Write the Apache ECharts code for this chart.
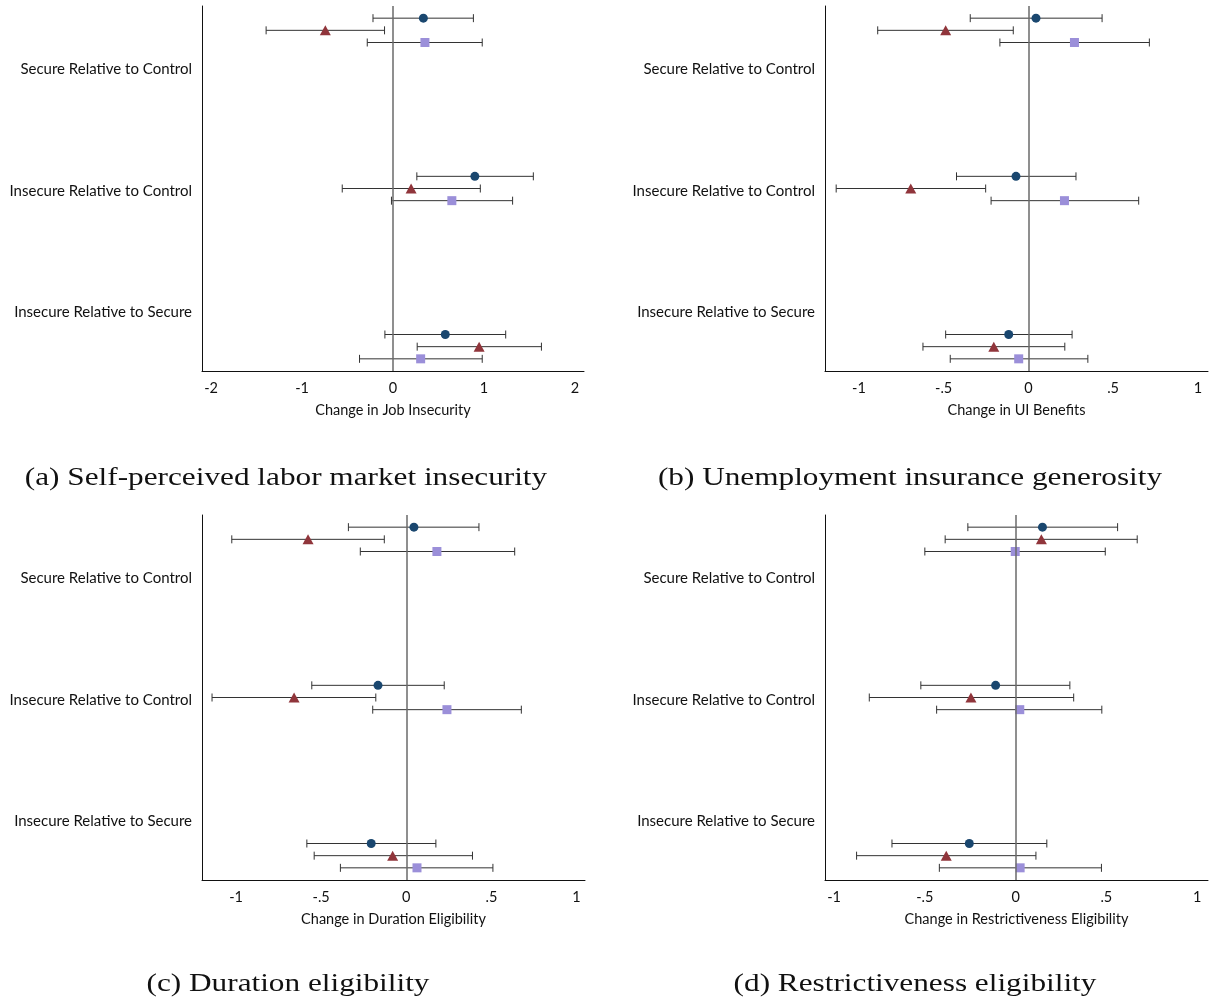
<!DOCTYPE html>
<html>
<head>
<meta charset="utf-8">
<script src="https://cdn.jsdelivr.net/npm/echarts@6/dist/echarts.min.js"></script>
<style>
  html, body { margin: 0; padding: 0; background: #ffffff; }
  #chart { width: 1213px; height: 1002px; }
</style>
</head>
<body>
<div id="chart"></div>
<script>
// Contrasts shown on every panel (top to bottom)
const contrasts = ['Secure Relative to Control', 'Insecure Relative to Control', 'Insecure Relative to Secure'];
// Vertical slot of the first estimate in each contrast group (0..30 scale, top down)
const rowBase = [1, 14, 27];
// Where each contrast label sits on the same scale
const labelPos = [5.2, 15.2, 25.2];

// Each row: [estimate, lower CI, upper CI] per contrast
const jobNavy     = [[0.334, -0.22, 0.884], [0.90, 0.262, 1.543], [0.575, -0.089, 1.239]];
const jobMaroon   = [[-0.744, -1.395, -0.093], [0.199, -0.558, 0.96], [0.947, 0.266, 1.632]];
const jobLavender = [[0.351, -0.283, 0.981], [0.647, -0.017, 1.315], [0.304, -0.368, 0.981]];

const uiNavy     = [[0.045, -0.343, 0.435], [-0.073, -0.424, 0.281], [-0.116, -0.488, 0.258]];
const uiMaroon   = [[-0.488, -0.889, -0.089], [-0.694, -1.134, -0.252], [-0.204, -0.622, 0.215]];
const uiLavender = [[0.272, -0.168, 0.714], [0.213, -0.22, 0.651], [-0.057, -0.461, 0.351]];

const durNavy     = [[0.045, -0.34, 0.427], [-0.166, -0.555, 0.223], [-0.206, -0.584, 0.174]];
const durMaroon   = [[-0.577, -1.025, -0.129], [-0.659, -1.141, -0.179], [-0.08, -0.541, 0.389]];
const durLavender = [[0.18, -0.27, 0.637], [0.239, -0.197, 0.676], [0.063, -0.387, 0.509]];

const resNavy     = [[0.148, -0.263, 0.562], [-0.11, -0.522, 0.299], [-0.255, -0.681, 0.172]];
const resMaroon   = [[0.142, -0.388, 0.67], [-0.246, -0.806, 0.32], [-0.382, -0.876, 0.112]];
const resLavender = [[-0.002, -0.5, 0.494], [0.023, -0.435, 0.475], [0.025, -0.42, 0.473]];

// Tick labels on the horizontal axes
const jobTicks = [-2, -1, 0, 1, 2];
const eligTicks = [-1, -0.5, 0, 0.5, 1];

const axisTitles = ['Change in Job Insecurity', 'Change in UI Benefits',
                    'Change in Duration Eligibility', 'Change in Restrictiveness Eligibility'];
const captions = ['(a) Self-perceived labor market insecurity', '(b) Unemployment insurance generosity',
                  '(c) Duration eligibility', '(d) Restrictiveness eligibility'];

const panels = [
  { series: [jobNavy, jobMaroon, jobLavender], ticks: jobTicks, min: -2.1, max: 2.1,
    grid: { left: 202, top: 6, width: 382, height: 365 }, cap: [286, 478] },
  { series: [uiNavy, uiMaroon, uiLavender], ticks: eligTicks, min: -1.2, max: 1.06,
    grid: { left: 825, top: 6, width: 383, height: 365 }, cap: [910, 478] },
  { series: [durNavy, durMaroon, durLavender], ticks: eligTicks, min: -1.2, max: 1.05,
    grid: { left: 202, top: 515, width: 383, height: 365 }, cap: [288, 984] },
  { series: [resNavy, resMaroon, resLavender], ticks: eligTicks, min: -1.05, max: 1.06,
    grid: { left: 825, top: 515, width: 383, height: 365 }, cap: [915, 984] }
];

const markerStyles = [
  { symbol: 'circle', size: 9, color: '#1a476f' },
  { symbol: 'triangle', size: [11, 10], color: '#90353b' },
  { symbol: 'rect', size: 9, color: '#9b8fd9' }
];

const FONT = 'Lato';
const stataNum = v => (v === 0 ? '0' : String(v).replace('0.', '.'));

const grids = [], xAxes = [], yAxes = [], series = [], graphics = [];

panels.forEach((p, pi) => {
  grids.push(p.grid);
  xAxes.push({
    type: 'value', gridIndex: pi, min: p.min, max: p.max, position: 'bottom',
    axisLine: { show: true, onZero: false, lineStyle: { color: '#111', width: 1 } },
    axisTick: { show: false },
    splitLine: { show: false },
    axisLabel: {
      customValues: p.ticks, formatter: stataNum,
      fontFamily: FONT, fontSize: 14.5, color: '#111', margin: 10
    },
    name: axisTitles[pi], nameLocation: 'middle', nameGap: 32,
    nameTextStyle: { fontFamily: FONT, fontSize: 14.5, color: '#111' }
  });
  yAxes.push({
    type: 'value', gridIndex: pi, min: 0, max: 30, inverse: true, position: 'left',
    axisLine: { show: true, onZero: false, lineStyle: { color: '#111', width: 1 } },
    axisTick: { show: false },
    splitLine: { show: false },
    axisLabel: {
      customValues: labelPos,
      formatter: v => contrasts[Math.floor(v / 10)],
      fontFamily: FONT, fontSize: 15, color: '#111', margin: 10
    }
  });

  p.series.forEach((rows, si) => {
    const bars = rows.map((r, ri) => [r[1], r[2], rowBase[ri] + si]);
    const pts = rows.map((r, ri) => [r[0], rowBase[ri] + si]);
    const bar = {
      type: 'custom', xAxisIndex: pi, yAxisIndex: pi, silent: true,
      data: bars,
      encode: { x: [0, 1], y: 2 },
      renderItem: (params, api) => {
        const a = api.coord([api.value(0), api.value(2)]);
        const b = api.coord([api.value(1), api.value(2)]);
        const st = { stroke: '#333', lineWidth: 1 };
        const h = 4;
        return {
          type: 'group',
          children: [
            { type: 'line', shape: { x1: a[0], y1: a[1], x2: b[0], y2: b[1] }, style: st },
            { type: 'line', shape: { x1: a[0], y1: a[1] - h, x2: a[0], y2: a[1] + h }, style: st },
            { type: 'line', shape: { x1: b[0], y1: b[1] - h, x2: b[0], y2: b[1] + h }, style: st }
          ]
        };
      },
      z: 3
    };
    if (si === 0) {
      bar.markLine = {
        silent: true, symbol: 'none', label: { show: false },
        lineStyle: { color: '#6a6a6a', width: 1.5, type: 'solid' },
        data: [{ xAxis: 0 }]
      };
    }
    series.push(bar);
    const m = markerStyles[si];
    series.push({
      type: 'scatter', xAxisIndex: pi, yAxisIndex: pi, silent: true,
      symbol: m.symbol, symbolSize: m.size,
      itemStyle: { color: m.color, opacity: 1 },
      data: pts, z: 4
    });
  });

  graphics.push({
    type: 'text', x: p.cap[0], y: p.cap[1], scaleX: 1.25,
    style: {
      text: captions[pi], textAlign: 'center', textVerticalAlign: 'middle',
      font: '25px "Liberation Serif"', fill: '#111'
    }
  });
});

const chart = echarts.init(document.getElementById('chart'), null, { renderer: 'canvas' });
chart.setOption({
  animation: false,
  backgroundColor: '#ffffff',
  grid: grids,
  xAxis: xAxes,
  yAxis: yAxes,
  series: series,
  graphic: graphics
});
</script>
</body>
</html>
